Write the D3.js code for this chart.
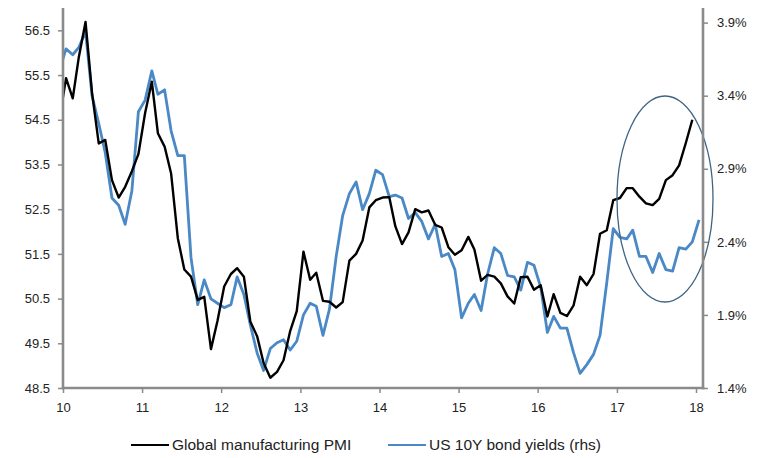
<!DOCTYPE html>
<html>
<head>
<meta charset="utf-8">
<script src="https://cdn.jsdelivr.net/npm/d3@7"></script>
<style>
  html, body { margin: 0; padding: 0; background: #fff; }
  svg { display: block; font-family: "Liberation Sans", Arial, sans-serif; }
</style>
</head>
<body>
<svg id="chart" width="761" height="458"></svg>
<script>
// Monthly series, first value is Dec 2009 (clipped at the axis)
const startMonth = "2009-12";

const pmi = [
  54.5,
  55.43, 54.98, 55.9, 56.69, 55.1, 53.97, 54.05, 53.15, 52.76, 53.0, 53.35, 53.73,
  54.65, 55.35, 54.2, 53.9, 53.3, 51.85, 51.15, 50.99, 50.47, 50.54, 49.37, 50.0,
  50.77, 51.05, 51.18, 50.99, 49.98, 49.66, 49.06, 48.73, 48.86, 49.12, 49.78, 50.22,
  51.55, 50.92, 51.08, 50.45, 50.43, 50.3, 50.42, 51.35, 51.5, 51.8, 52.54, 52.7,
  52.76, 52.77, 52.12, 51.72, 51.98, 52.5, 52.43, 52.47, 52.15, 52.09, 51.65, 51.48,
  51.58, 51.88, 51.6, 50.9, 51.03, 50.99, 50.84, 50.55, 50.39, 50.98, 50.99, 50.7,
  50.8, 50.1, 50.6, 50.18, 50.11, 50.35, 50.99, 50.8, 51.05, 51.95, 52.03, 52.7,
  52.75, 52.97, 52.97, 52.78, 52.63, 52.59, 52.73, 53.15, 53.26, 53.48, 53.98, 54.5
];

const yields = [
  3.57,
  3.72, 3.68, 3.73, 3.84, 3.40, 3.21, 3.01, 2.70, 2.65, 2.52, 2.75, 3.29,
  3.37, 3.57, 3.41, 3.44, 3.16, 2.99, 2.99, 2.29, 1.97, 2.14, 2.01, 1.98,
  1.95, 1.97, 2.16, 2.04, 1.83, 1.64, 1.52, 1.67, 1.71, 1.73, 1.66, 1.72,
  1.90, 1.98, 1.96, 1.76, 1.94, 2.30, 2.58, 2.73, 2.81, 2.62, 2.73, 2.89,
  2.86, 2.71, 2.72, 2.70, 2.56, 2.60, 2.54, 2.42, 2.52, 2.30, 2.32, 2.21,
  1.88, 1.98, 2.04, 1.93, 2.18, 2.36, 2.32, 2.17, 2.16, 2.07, 2.26, 2.24,
  2.09, 1.78, 1.89, 1.81, 1.81, 1.64, 1.50, 1.56, 1.63, 1.76, 2.12, 2.49,
  2.43, 2.42, 2.48, 2.30, 2.30, 2.19, 2.32, 2.21, 2.20, 2.36, 2.35, 2.40,
  2.55
];

const yearTicks = ["10", "11", "12", "13", "14", "15", "16", "17", "18"];
const pmiTicks = [48.5, 49.5, 50.5, 51.5, 52.5, 53.5, 54.5, 55.5, 56.5];
const yieldTicks = [1.4, 1.9, 2.4, 2.9, 3.4, 3.9];
const seriesNames = ["Global manufacturing PMI", "US 10Y bond yields (rhs)"];

const svg = d3.select("#chart");
const plotLeft = 63, plotRight = 703, plotTop = 8, plotBottom = 388;
const axisColor = "#8a8a8a";
const textColor = "#222222";
const pmiColor = "#000000";
const yieldColor = "#4a89c5";

const parseMonth = d3.timeParse("%Y-%m");
const firstMonth = parseMonth(startMonth);
// plot each monthly value at mid-month
const monthDate = i => d3.timeDay.offset(d3.timeMonth.offset(firstMonth, i), 14);

const x = d3.scaleTime()
  .domain([new Date(2010, 0, 1), new Date(2018, 0, 1)])
  .range([plotLeft, 696]);
const yL = d3.scaleLinear().domain([48.5, 57.0]).range([plotBottom, plotTop]);
const yR = d3.scaleLinear().domain([1.4, 4.0]).range([plotBottom, plotTop]);

svg.append("defs").append("clipPath").attr("id", "plot")
  .append("rect").attr("x", plotLeft).attr("y", 0)
  .attr("width", plotRight - plotLeft).attr("height", plotBottom);

const plot = svg.append("g").attr("clip-path", "url(#plot)");

const lineL = d3.line().x((d, i) => x(monthDate(i))).y(d => yL(d));
const lineR = d3.line().x((d, i) => x(monthDate(i))).y(d => yR(d));

plot.append("path").datum(yields)
  .attr("d", lineR).attr("fill", "none")
  .attr("stroke", yieldColor).attr("stroke-width", 2.8)
  .attr("stroke-linejoin", "round");

plot.append("path").datum(pmi)
  .attr("d", lineL).attr("fill", "none")
  .attr("stroke", pmiColor).attr("stroke-width", 2.4)
  .attr("stroke-linejoin", "round");

// Highlight ring around the latest divergence
svg.append("ellipse")
  .attr("cx", 665).attr("cy", 199).attr("rx", 48).attr("ry", 103)
  .attr("fill", "none").attr("stroke", "#3f6383").attr("stroke-width", 1.3);

// Axes
const yearDates = yearTicks.map(t => new Date(2000 + +t, 0, 1));
const xAxis = d3.axisBottom(x).tickValues(yearDates)
  .tickFormat((d, i) => yearTicks[i]).tickSizeInner(5).tickSizeOuter(0).tickPadding(10);
const leftAxis = d3.axisLeft(yL).tickValues(pmiTicks)
  .tickFormat(d3.format(".1f")).tickSizeInner(5).tickSizeOuter(0).tickPadding(8);
const rightAxis = d3.axisRight(yR).tickValues(yieldTicks)
  .tickFormat(d => d3.format(".1f")(d) + "%").tickSizeInner(5).tickSizeOuter(0).tickPadding(9);

function styleAxis(g) {
  g.select(".domain").remove();
  g.selectAll(".tick line").attr("stroke", axisColor).attr("stroke-width", 1.5);
  g.selectAll(".tick text").attr("fill", textColor)
    .style("font-size", "13px").style("font-family", "'Liberation Sans', Arial, sans-serif");
}

svg.append("g").attr("transform", `translate(0,${plotBottom})`).call(xAxis).call(styleAxis);
svg.append("g").attr("transform", `translate(${plotLeft},0)`).call(leftAxis).call(styleAxis);
svg.append("g").attr("transform", `translate(${plotRight},0)`).call(rightAxis).call(styleAxis);

// Axis lines
const axisLines = svg.append("g").attr("stroke", axisColor).attr("stroke-width", 2.6);
axisLines.append("line").attr("x1", plotLeft).attr("x2", plotLeft)
  .attr("y1", plotTop).attr("y2", plotBottom + 1.3);
axisLines.append("line").attr("x1", plotRight).attr("x2", plotRight)
  .attr("y1", plotTop).attr("y2", plotBottom + 1.3);
axisLines.append("line").attr("x1", plotLeft - 1.3).attr("x2", plotRight + 1.3)
  .attr("y1", plotBottom).attr("y2", plotBottom);

// Legend
const legend = svg.append("g").attr("transform", "translate(0,445)");
const legendItems = [
  { name: seriesNames[0], color: pmiColor, x0: 131 },
  { name: seriesNames[1], color: yieldColor, x0: 388 }
];
legendItems.forEach(it => {
  legend.append("line").attr("x1", it.x0).attr("x2", it.x0 + 38)
    .attr("y1", 0).attr("y2", 0).attr("stroke", it.color).attr("stroke-width", 2);
  legend.append("text").attr("x", it.x0 + 41).attr("y", 0).attr("dy", "0.35em")
    .attr("fill", textColor).style("font-size", "15.5px").text(it.name);
});
</script>
</body>
</html>
